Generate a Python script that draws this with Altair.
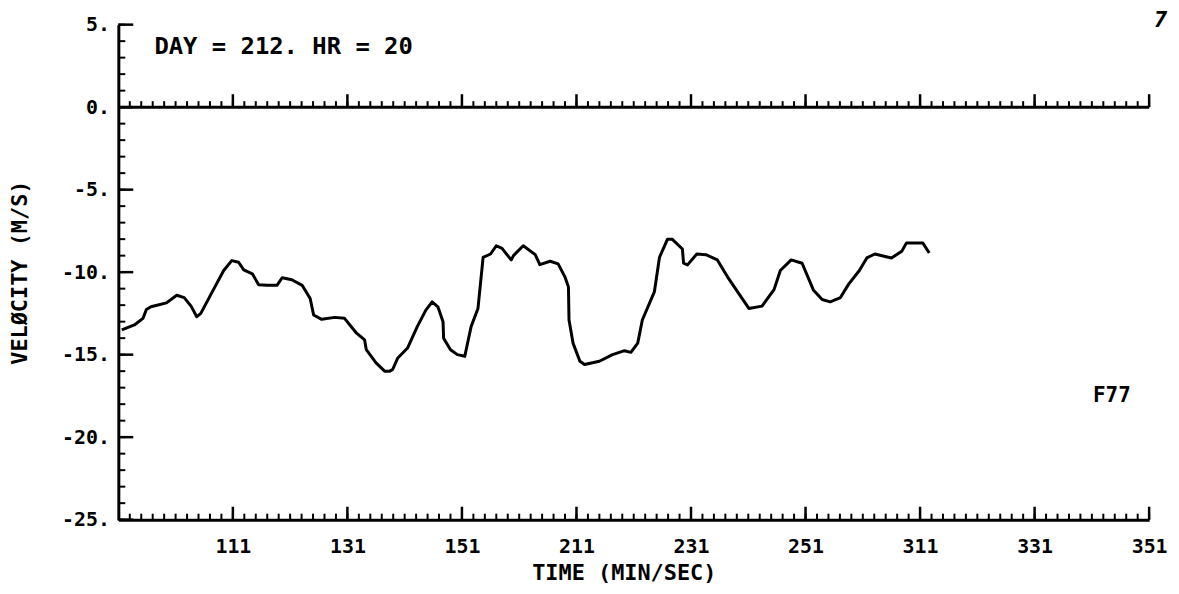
import altair as alt
import pandas as pd

# ---- data (time in seconds, velocity in m/s) ----
times = [51.6, 53.8, 55.3, 55.9, 56.7, 59.4, 61.2, 62.5, 63.7, 64.7,
         65.4, 67.7, 69.4, 70.8, 72.0, 72.9, 74.4, 75.5, 77.0, 78.7,
         79.6, 81.3, 83.1, 84.5, 85.1, 86.5, 88.8, 90.5, 92.6, 94.0,
         94.3, 96.0, 97.5, 98.4, 98.9, 99.8, 101.5, 103.2, 104.7, 105.8,
         106.8, 107.7, 107.8, 109.0, 110.2, 111.5, 112.6, 113.8, 114.7, 116.0,
         117.0, 118.0, 119.6, 120.0, 121.7, 123.8, 124.6, 126.4, 127.8, 129.0,
         129.6, 129.7, 130.4, 131.6, 132.4, 135.0, 137.3, 139.4, 140.5, 141.7,
         142.5, 144.6, 145.5, 146.9, 147.7, 149.5, 149.7, 150.4, 152.0, 153.6,
         155.6, 157.4, 161.1, 163.4, 165.5, 166.6, 168.5, 170.4, 172.4, 173.9,
         175.3, 177.1, 178.5, 180.4, 181.7, 183.1, 186.0, 187.8, 188.6, 191.5,
         192.6]
vel = [-13.5, -13.2, -12.8, -12.26, -12.1, -11.86, -11.4, -11.54, -12.06, -12.7,
       -12.5, -11.0, -9.9, -9.3, -9.4, -9.86, -10.1, -10.76, -10.8, -10.8,
       -10.34, -10.46, -10.8, -11.6, -12.6, -12.86, -12.74, -12.8, -13.7, -14.1,
       -14.7, -15.5, -16.0, -16.0, -15.9, -15.2, -14.6, -13.3, -12.3, -11.8,
       -12.1, -13.0, -14.0, -14.7, -15.0, -15.1, -13.3, -12.2, -9.1, -8.9,
       -8.4, -8.56, -9.26, -9.0, -8.4, -8.94, -9.54, -9.34, -9.5, -10.3,
       -10.9, -12.9, -14.3, -15.4, -15.6, -15.4, -15.0, -14.76, -14.86, -14.3,
       -12.9, -11.2, -9.1, -8.0, -8.0, -8.6, -9.46, -9.56, -8.9, -8.94,
       -9.26, -10.3, -12.2, -12.06, -11.06, -9.9, -9.26, -9.46, -11.1, -11.66,
       -11.8, -11.54, -10.74, -9.9, -9.14, -8.9, -9.14, -8.74, -8.24, -8.24,
       -8.84]
assert len(times) == len(vel)

x_minor = list(range(53, 232, 2))        # minor time ticks (s)
x_major = list(range(71, 232, 20))       # labelled ticks: 1:11 ... 3:51
y_minor = list(range(-25, 6))
y_major = list(range(-25, 6, 5))

header_text = "DAY = 212. HR = 20"
panel_text = "F77"
page_text = "7"
x_title = "TIME (MIN/SEC)"
y_title = "VEL\u00d8CITY (M/S)"

FONT = "DejaVu Sans Mono"
W, H = 1037, 498

xs = alt.Scale(domain=[51, 231], nice=False, zero=False)
ys = alt.Scale(domain=[-25, 5], nice=False, zero=False)

df = pd.DataFrame({"t": times, "v": vel})

x_axis = alt.Axis(
    values=x_major,
    labelExpr="floor(datum.value/60) + (datum.value % 60 < 10 ? '0' : '') + (datum.value % 60)",
    ticks=False, grid=False, domainColor="black", domainWidth=3,
    labelFont=FONT, labelFontSize=20, labelFontWeight="bold", labelColor="black",
    labelPadding=17, labelFlush=False, labelOverlap=False,
    title=x_title, titleFont=FONT, titleFontSize=22, titleFontWeight="bold",
    titleColor="black", titleX=W / 2 - 10, titleY=53, titleBaseline="middle",
    titleAlign="center",
)
y_axis = alt.Axis(
    values=y_major,
    labelExpr="datum.value + '.'",
    ticks=False, grid=False, domainColor="black", domainWidth=3,
    labelFont=FONT, labelFontSize=20, labelFontWeight="bold", labelColor="black",
    labelPadding=9, labelOverlap=False, labelFlush=False, labelBaseline="middle",
    title=y_title, titleFont=FONT, titleFontSize=22, titleFontWeight="bold",
    titleColor="black", titleX=-99, titleY=H / 2, titleAngle=270,
    titleAlign="center", titleBaseline="middle",
)

line = alt.Chart(df).mark_line(color="black", strokeWidth=3, strokeJoin="round").encode(
    x=alt.X("t:Q", scale=xs, axis=x_axis),
    y=alt.Y("v:Q", scale=ys, axis=y_axis),
)

zero_line = alt.Chart(pd.DataFrame({"v": [0]})).mark_rule(
    color="black", strokeWidth=3
).encode(y=alt.Y("v:Q", scale=ys))

def xticks(vals, base, length, width):
    d = pd.DataFrame({"t": vals, "v": [base] * len(vals)})
    return alt.Chart(d).mark_rule(color="black", strokeWidth=width, y2Offset=-length).encode(
        x=alt.X("t:Q", scale=xs),
        y=alt.Y("v:Q", scale=ys),
        y2="v:Q",
    )

def yticks(vals, length, width):
    d = pd.DataFrame({"v": vals, "t": [51] * len(vals)})
    return alt.Chart(d).mark_rule(color="black", strokeWidth=width, x2Offset=length).encode(
        y=alt.Y("v:Q", scale=ys),
        x=alt.X("t:Q", scale=xs),
        x2="t:Q",
    )

def label(text, t, v, size, style="normal", align="center"):
    d = pd.DataFrame({"t": [t], "v": [v]})
    return alt.Chart(d).mark_text(
        text=text, font=FONT, fontSize=size, fontWeight="bold", fontStyle=style,
        color="black", align=align, baseline="middle"
    ).encode(x=alt.X("t:Q", scale=xs), y=alt.Y("v:Q", scale=ys))

layers = [
    line,
    zero_line,
    xticks(x_minor, -25, 6, 2), xticks(x_major, -25, 13, 2.5),
    xticks(x_minor, 0, 6, 2), xticks(x_major, 0, 13, 2.5),
    yticks(y_minor, 7, 2), yticks(y_major, 15, 2.5),
    label(header_text, 57.3, 3.67, 24, align="left"),
    label(panel_text, 224.5, -17.5, 21),
    label(page_text, 233.0, 5.25, 22, style="italic"),
]

chart = alt.layer(*layers).properties(
    width=W, height=H,
    autosize=alt.AutoSizeParams(type="none"),
    padding={"left": 111, "top": 15, "right": 22, "bottom": 65},
    background="white",
).configure_view(stroke=None)

chart.save("out.html", embed_options={"renderer": "svg", "actions": False})
